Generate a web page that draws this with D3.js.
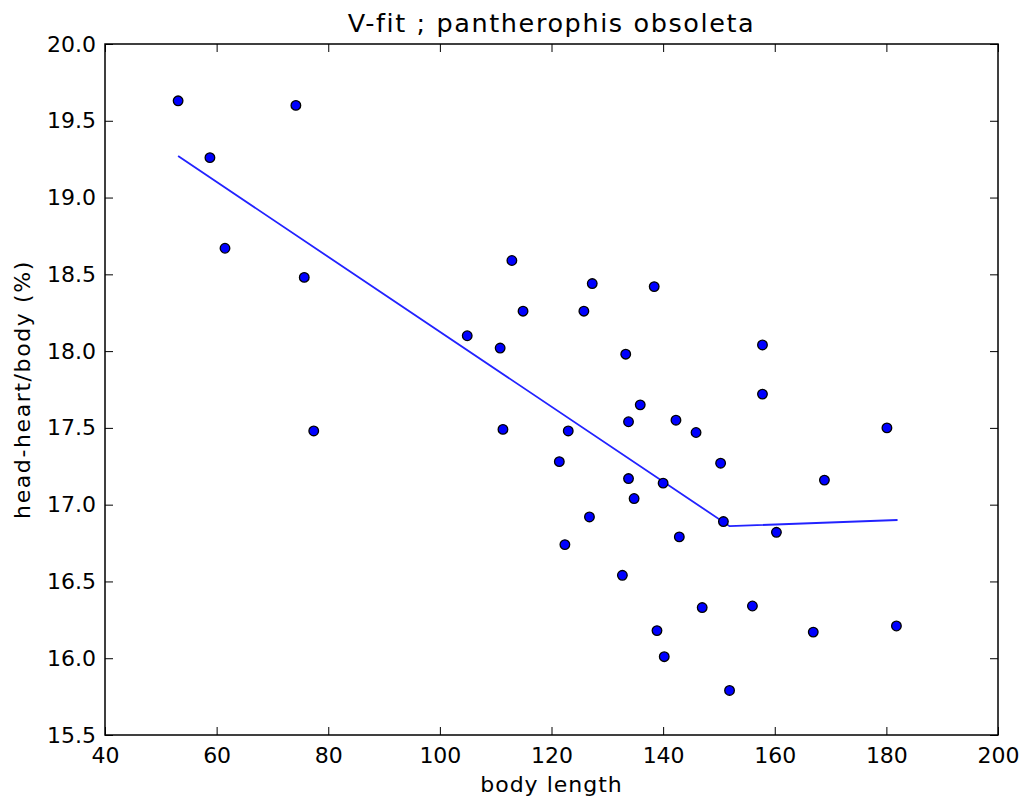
<!DOCTYPE html>
<html>
<head>
<meta charset="utf-8">
<script src="https://cdn.jsdelivr.net/npm/d3@7"></script>
<style>
  body { margin: 0; background: #fff; }
  svg text { font-family: "DejaVu Sans", sans-serif; fill: #000; }
</style>
</head>
<body>
<div id="chart"></div>
<script>
// body length vs head-heart/body (%)
let bodyLength = [53.1, 58.8, 61.5, 74.2, 75.7, 77.4, 104.9, 110.8, 111.3, 112.9, 114.9,
  121.4, 122.4, 123.0, 125.8, 126.8, 127.3, 132.7, 133.3, 133.8, 133.8, 134.8, 135.9,
  138.4, 138.9, 140.0, 140.2, 142.3, 142.9, 145.9, 147.0, 150.3, 150.8, 151.9, 156.0,
  157.8, 157.8, 160.3, 166.9, 168.9, 180.1, 181.8];
let headHeart = [19.63, 19.26, 18.67, 19.60, 18.48, 17.48, 18.10, 18.02, 17.49, 18.59, 18.26,
  17.28, 16.74, 17.48, 18.26, 16.92, 18.44, 16.54, 17.98, 17.54, 17.17, 17.04, 17.65,
  18.42, 16.18, 17.14, 16.01, 17.55, 16.79, 17.47, 16.33, 17.27, 16.89, 15.79, 16.34,
  18.04, 17.72, 16.82, 16.17, 17.16, 17.50, 16.21];

// the V-fit: two segments meeting at the break point
let fitX = [53.1, 151.9, 182.0];
let fitY = [19.27, 16.86, 16.90];

let xTicks = [40, 60, 80, 100, 120, 140, 160, 180, 200];
let yTicks = [15.5, 16.0, 16.5, 17.0, 17.5, 18.0, 18.5, 19.0, 19.5, 20.0];

var W = 1024, H = 803;
var margin = {top: 44, right: 26, bottom: 68, left: 105};
var tickLen = 8;

var svg = d3.select("#chart").append("svg")
  .attr("width", W)
  .attr("height", H);

var x = d3.scaleLinear().domain([40, 200]).range([margin.left, W - margin.right]);
var y = d3.scaleLinear().domain([15.5, 20.0]).range([H - margin.bottom, margin.top]);

var points = bodyLength.map(function (d, i) { return {x: d, y: headHeart[i]}; });
var fit = fitX.map(function (d, i) { return [d, fitY[i]]; });

// fit line
svg.append("path")
  .datum(fit)
  .attr("fill", "none")
  .attr("stroke", "#2222ff")
  .attr("stroke-width", 1.8)
  .attr("d", d3.line().x(function (d) { return x(d[0]); }).y(function (d) { return y(d[1]); }));

// scatter
svg.append("g").selectAll("circle")
  .data(points)
  .enter().append("circle")
  .attr("cx", function (d) { return x(d.x); })
  .attr("cy", function (d) { return y(d.y); })
  .attr("r", 4.8)
  .attr("fill", "#0000ff")
  .attr("stroke", "#000")
  .attr("stroke-width", 1.3);

// axes: matplotlib classic style, ticks pointing inward on all four sides
function styleAxis(g) {
  g.select(".domain").remove();
  g.selectAll(".tick line").attr("stroke", "#000").attr("stroke-width", 1);
  g.selectAll(".tick text").style("font-size", "22px").attr("fill", "#000");
}

svg.append("g")
  .attr("transform", "translate(0," + (H - margin.bottom) + ")")
  .call(d3.axisBottom(x).tickValues(xTicks).tickFormat(d3.format("d")).tickSizeInner(-tickLen).tickPadding(12))
  .call(styleAxis);

svg.append("g")
  .attr("transform", "translate(0," + margin.top + ")")
  .call(d3.axisTop(x).tickValues(xTicks).tickFormat("").tickSizeInner(-tickLen))
  .call(styleAxis);

svg.append("g")
  .attr("transform", "translate(" + margin.left + ",0)")
  .call(d3.axisLeft(y).tickValues(yTicks).tickFormat(d3.format(".1f")).tickSizeInner(-tickLen).tickPadding(9))
  .call(styleAxis);

svg.append("g")
  .attr("transform", "translate(" + (W - margin.right) + ",0)")
  .call(d3.axisRight(y).tickValues(yTicks).tickFormat("").tickSizeInner(-tickLen))
  .call(styleAxis);

// frame
svg.append("rect")
  .attr("x", margin.left)
  .attr("y", margin.top)
  .attr("width", W - margin.left - margin.right)
  .attr("height", H - margin.top - margin.bottom)
  .attr("fill", "none")
  .attr("stroke", "#000")
  .attr("stroke-width", 1.5);

// title and labels (a little letter-spacing to match the wide glyph advances)
svg.append("text")
  .attr("x", (margin.left + W - margin.right) / 2)
  .attr("y", 32)
  .attr("text-anchor", "middle")
  .style("font-size", "25.5px")
  .style("letter-spacing", "1.6px")
  .text("V-fit ; pantherophis obsoleta");

svg.append("text")
  .attr("x", (margin.left + W - margin.right) / 2)
  .attr("y", 792)
  .attr("text-anchor", "middle")
  .style("font-size", "22px")
  .style("letter-spacing", "1px")
  .text("body length");

svg.append("text")
  .attr("transform", "translate(30," + ((margin.top + H - margin.bottom) / 2) + ") rotate(-90)")
  .attr("text-anchor", "middle")
  .style("font-size", "22px")
  .style("letter-spacing", "1.6px")
  .text("head-heart/body (%)");
</script>
</body>
</html>
